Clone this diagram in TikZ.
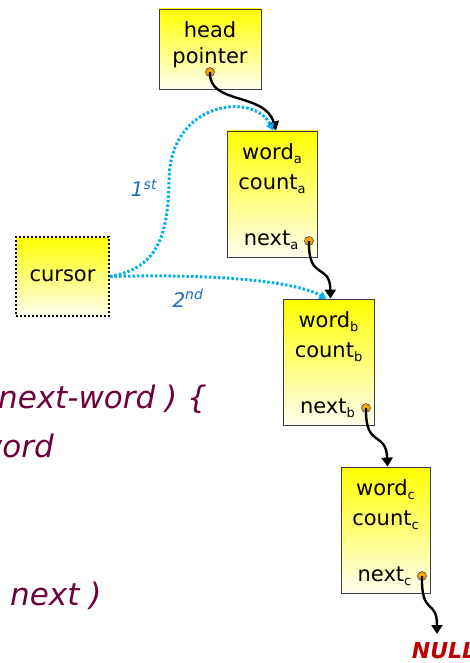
\documentclass[tikz,border=0pt]{standalone}
\usepackage{fontspec}
\setmainfont{DejaVu Sans}
\usetikzlibrary{arrows.meta}
\definecolor{codemaroon}{RGB}{110,0,60}
\definecolor{dotblue}{RGB}{0,176,240}
\definecolor{lblblue}{RGB}{30,110,190}
\definecolor{nullred}{RGB}{192,0,0}
\definecolor{ptrorange}{RGB}{240,165,0}
\newcommand{\sbs}[1]{\raisebox{-0.35ex}{\fontsize{13}{13}\selectfont #1}}
\begin{document}
\begin{tikzpicture}[x=1pt,y=-1pt,
  cell/.style={draw=black!75, line width=0.8pt, top color=yellow, bottom color=yellow!6, inner sep=0pt},
  curs/.style={draw=black, line width=2pt, dash pattern=on 2pt off 2pt, top color=yellow, bottom color=yellow!6, inner sep=0pt},
  txt/.style={font=\fontsize{21}{24}\selectfont, inner sep=0pt},
  ptr/.style={circle, fill=ptrorange, draw=black!70, line width=0.6pt, inner sep=0pt, minimum size=9pt},
  blk/.style={line width=2.4pt, -{Triangle[length=9pt,width=11pt]}},
  blu/.style={dotblue, line width=3pt, dash pattern=on 2.5pt off 2pt, -{Triangle[length=7pt,width=8pt]}},
  code/.style={codemaroon, font=\fontsize{31}{36}\selectfont\itshape, inner sep=0pt},
  ord/.style={lblblue, font=\fontsize{20}{22}\selectfont\itshape, inner sep=0pt}]
\clip (0,0) rectangle (470,663);
\fill[white] (0,0) rectangle (470,663);
% boxes
\node[cell, minimum width=102pt, minimum height=80pt] (head) at (210,49) {};
\node[cell, minimum width=90pt, minimum height=126pt] (a) at (272,194) {};
\node[cell, minimum width=91pt, minimum height=126pt] (b) at (328.5,362) {};
\node[cell, minimum width=89pt, minimum height=126pt] (c) at (385.5,530) {};
\node[curs, minimum width=93pt, minimum height=79pt] (cur) at (62.5,276.5) {};
% texts
\node[txt] (th1) at (210,30) {head};
\node[txt] (th2) at (210,58) {pointer};
\node[txt] (wa) at (272,154) {word\sbs{a}};
\node[txt] (ca) at (272,184) {count\sbs{a}};
\node[txt] (na) at (271,240) {next\sbs{a}};
\node[txt] (wb) at (328.5,322) {word\sbs{b}};
\node[txt] (cb) at (328.5,352) {count\sbs{b}};
\node[txt] (nb) at (327.5,408) {next\sbs{b}};
\node[txt] (wc) at (385.5,490) {word\sbs{c}};
\node[txt] (cc) at (385.5,520) {count\sbs{c}};
\node[txt] (nc) at (384.5,576) {next\sbs{c}};
\node[txt] (tc) at (62.5,276) {cursor};
% pointer dots
\node[ptr] (ph) at (210,72) {};
\node[ptr] (pa) at (309,241) {};
\node[ptr] (pb) at (366,408) {};
\node[ptr] (pc) at (422,576) {};
\coordinate (nullend) at (437,634);
% black arrows
\draw[blk] (ph.center) .. controls (208,105) and (265,92) .. ([xshift=4pt]a.north);
\draw[blk] (pa.center) .. controls (308,282) and (330,262) .. ([xshift=2pt]b.north);
\draw[blk] (pb.center) .. controls (365,449) and (386,430) .. ([xshift=2pt]c.north);
\draw[blk] (pc.center) .. controls (421,617) and (437,598) .. (nullend);
% blue dotted arrows
\draw[blu] (cur.east) .. controls (160,268) and (168,232) .. (169,180)
  .. controls (170,100) and (255,92) .. ([xshift=1pt]a.north);
\draw[blu] (cur.east) .. controls (200,274) and (290,279) .. ([xshift=-2pt]b.north);
\node[ord] (l1) at (144,188) {1\textsuperscript{st}};
\node[ord] (l2) at (188,298) {2\textsuperscript{nd}};
% NULL
\node[nullred, font=\fontsize{22}{26}\selectfont\bfseries\itshape, inner sep=0pt] (null) at (444,651) {NULL};
% code fragments
\node[code, anchor=base east] (code1) at (207,408) {next-word ) \{};
\node[code, anchor=base east] (code2) at (54,457) {word};
\node[code, anchor=base west] (code3) at (10,605) {next )};
\end{tikzpicture}
\end{document}
